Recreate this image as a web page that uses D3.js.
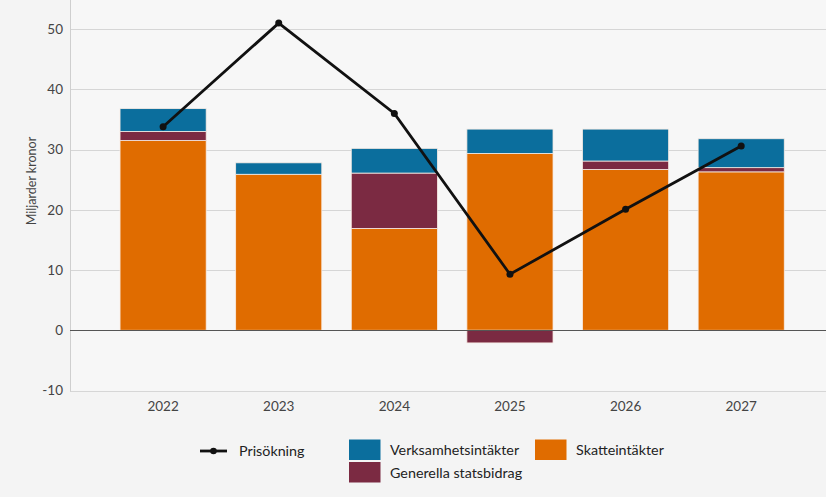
<!DOCTYPE html>
<html><head><meta charset="utf-8">
<script src="https://cdn.jsdelivr.net/npm/d3@7"></script>
<style>
html,body{margin:0;padding:0;background:#f4f4f4;}
svg{display:block;font-family:Lato,"Open Sans",sans-serif;}
</style></head>
<body><svg id="c" width="826" height="497"></svg>
<script>
const years = ["2022","2023","2024","2025","2026","2027"];
const skatteintakter = [31.5, 25.9, 16.9, 29.35, 26.7, 26.3];
const generellaStatsbidrag = [1.5, 0, 9.2, -2.1, 1.4, 0.7];
const verksamhetsintakter = [3.8, 1.9, 4.1, 4.05, 5.3, 4.8];
const prisokning = [33.8, 51.0, 36.0, 9.3, 20.1, 30.6];
const yTicks = [-10, 0, 10, 20, 30, 40, 50];

const colors = {skatt:"#e06c00", gen:"#7b2a42", verks:"#0b6e9d"};

const svg = d3.select("#c");
const x = d3.scaleBand().domain(years).range([105.3, 799]).paddingInner(0.255).paddingOuter(0.1275);
const y = d3.scaleLinear().domain([-10, 55]).range([390.5, -1]);

// plot background
svg.append("rect").attr("x",70).attr("y",0).attr("width",756).attr("height",y(-10)-0)
  .attr("fill","#f7f7f7");

// gridlines
svg.append("g").selectAll("line").data(yTicks.filter(d=>d!==0)).join("line")
  .attr("x1",70).attr("x2",826).attr("y1",d=>Math.round(y(d))+0.5).attr("y2",d=>Math.round(y(d))+0.5)
  .attr("stroke","#d6d6d6").attr("stroke-width",1);
// left axis line
svg.append("line").attr("x1",70.5).attr("x2",70.5).attr("y1",0).attr("y2",Math.round(y(-10))+0.5)
  .attr("stroke","#cfcfcf");

// y tick labels
svg.append("g").selectAll("text").data(yTicks).join("text")
  .attr("x",63).attr("y",d=>y(d)).attr("dy","0.35em").attr("text-anchor","end")
  .attr("font-size",13.5).attr("fill","#444").text(d=>d);

// y title
svg.append("text").attr("transform","translate(32,181) rotate(-90)").attr("text-anchor","middle")
  .attr("dy","0.35em").attr("font-size",12.5).attr("fill","#444").text("Miljarder kronor");

// x labels
svg.append("g").selectAll("text").data(years).join("text")
  .attr("x",d=>x(d)+x.bandwidth()/2).attr("y",406).attr("dy","0.35em").attr("text-anchor","middle")
  .attr("font-size",13.5).attr("fill","#444").text(d=>d);

// stacked bars
const segs = [];
years.forEach((yr,i)=>{
  let pos = 0, neg = 0;
  const parts = [["skatt",skatteintakter[i]],["gen",generellaStatsbidrag[i]],["verks",verksamhetsintakter[i]]];
  parts.forEach(([k,v])=>{
    if (v===0) return;
    if (v>0){ segs.push({yr,k,y0:pos,y1:pos+v}); pos+=v; }
    else { segs.push({yr,k,y0:neg+v,y1:neg}); neg+=v; }
  });
});
svg.append("g").selectAll("rect").data(segs).join("rect")
  .attr("x",d=>x(d.yr)).attr("width",x.bandwidth())
  .attr("y",d=>y(d.y1)).attr("height",d=>y(d.y0)-y(d.y1))
  .attr("fill",d=>colors[d.k]).attr("stroke","#f8ece4").attr("stroke-width",0.8);

// zero line
svg.append("line").attr("x1",70).attr("x2",826).attr("y1",Math.round(y(0))+0.5).attr("y2",Math.round(y(0))+0.5)
  .attr("stroke","#555").attr("stroke-width",1.2);

// price line
const line = d3.line().x((d,i)=>x(years[i])+x.bandwidth()/2).y(d=>y(d));
svg.append("path").datum(prisokning).attr("d",line).attr("fill","none")
  .attr("stroke","#111").attr("stroke-width",2.8).attr("stroke-linejoin","miter");
svg.append("g").selectAll("circle").data(prisokning).join("circle")
  .attr("cx",(d,i)=>x(years[i])+x.bandwidth()/2).attr("cy",d=>y(d)).attr("r",3.5).attr("fill","#111");

// legend
const lg = svg.append("g").attr("font-size",14.3).attr("fill","#222");
lg.append("line").attr("x1",200).attr("x2",227).attr("y1",451).attr("y2",451).attr("stroke","#111").attr("stroke-width",2.8);
lg.append("circle").attr("cx",213.5).attr("cy",451).attr("r",3.3).attr("fill","#111");
lg.append("text").attr("x",239).attr("y",451).attr("dy","0.35em").text("Prisökning");
const sq = [
  {c:colors.verks, x:349, y:439.5, t:"Verksamhetsintäkter"},
  {c:colors.gen, x:349, y:462, t:"Generella statsbidrag"},
  {c:colors.skatt, x:535, y:439.5, t:"Skatteintäkter"}
];
sq.forEach(s=>{
  lg.append("rect").attr("x",s.x).attr("y",s.y).attr("width",31.5).attr("height",20.5).attr("fill",s.c);
  lg.append("text").attr("x",s.x+41).attr("y",s.y+10.5).attr("dy","0.35em").text(s.t);
});
</script></body></html>
